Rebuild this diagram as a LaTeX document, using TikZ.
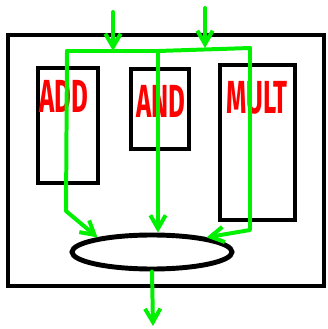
\documentclass[tikz,border=0pt]{standalone}
\usepackage{fontspec}
\setsansfont{Fira Sans}
\usetikzlibrary{shapes.geometric, arrows.meta, positioning}
\definecolor{wiregreen}{RGB}{0,240,0}
\definecolor{labelred}{RGB}{255,0,0}
\newcommand{\tallword}[1]{\scalebox{1}[1.8]{#1}}
\tikzset{
    unitbox/.style={rectangle, draw=black, line width=4.2pt, inner sep=0pt},
    unitlabel/.style={text=labelred, font=\sffamily\bfseries\fontsize{22}{24}\selectfont, inner sep=0pt},
    wire/.style={draw=wiregreen, line width=3.4pt, line cap=round, line join=round},
    wirearrow/.style={wire, -{Straight Barb[length=4mm, width=4.6mm]}}
}

\begin{document}
\begin{tikzpicture}[x=0.03cm, y=-0.03cm]
  \useasboundingbox (0,0) rectangle (327,329);
  % chip and its units
  \node[unitbox, minimum width=9.48cm, minimum height=7.53cm] (chip) at (166,160.5) {};
  \node[unitbox, minimum width=1.8cm, minimum height=3.45cm] (add) at (68,125.5) {};
  \node[unitbox, minimum width=1.74cm, minimum height=2.4cm] (and) at (160,109) {};
  \node[unitbox, minimum width=2.25cm, minimum height=4.65cm] (mult) at (257.5,142.5) {};
  \node[unitlabel] (addlbl) at (64,96) {\tallword{ADD}};
  \node[unitlabel] (andlbl) at (161,101) {\tallword{AND}};
  \node[unitlabel] (multlbl) at (257,98) {\tallword{MULT}};
  \node[ellipse, draw=black, line width=4.2pt, minimum width=4.8cm, minimum height=1.02cm, inner sep=0pt] (alu) at (152,252) {};
  % input bus
  \coordinate (inA) at (113,12);
  \coordinate (inB) at (205,8);
  \coordinate (busL) at (67,51);
  \coordinate (busM) at (158,51);
  \coordinate (busR) at (250,48);
  \coordinate (outE) at (153,326);
  \draw[wirearrow] (inA) -- (inA |- busL);
  \draw[wirearrow] (inB) -- (inB |- busR);
  \draw[wire] (busL) -- (busM) -- (busR);
  \draw[wirearrow] (busL) -- ++(-1,160) -- (alu.165);
  \draw[wirearrow] (busM) -- (busM |- alu.north);
  \draw[wirearrow] (busR) -- ++(0,182) -- (alu.15);
  \draw[wirearrow] (alu.south) -- (outE);
\end{tikzpicture}
\end{document}
